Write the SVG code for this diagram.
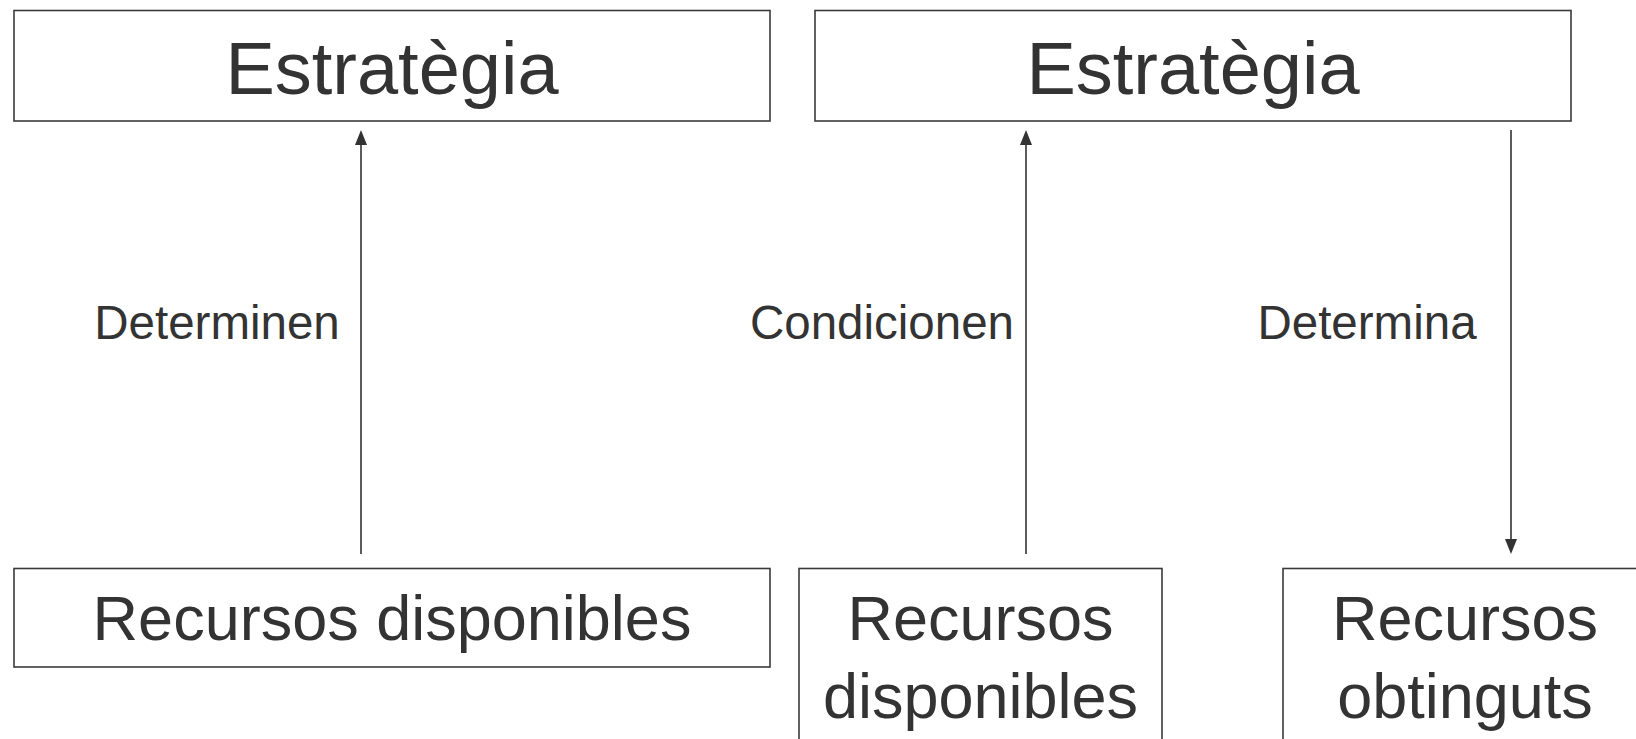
<svg xmlns="http://www.w3.org/2000/svg" width="1636" height="739" viewBox="0 0 1636 739">
<defs>
<style>
.box{fill:#fff;stroke:#3a3a3a;stroke-width:1.6}
.t{font-family:"Liberation Sans",Arial,sans-serif;fill:#333;text-anchor:middle}
.big{font-size:74px}
.mid{font-size:63px}
.lab{font-size:47.5px}
.con{stroke:#333;stroke-width:1.6;fill:none}
</style>
<marker id="ah" markerWidth="12" markerHeight="14" refX="6" refY="14" orient="auto-start-reverse" markerUnits="userSpaceOnUse" viewBox="0 0 12 14">
<path d="M0,14 L6,0 L12,14 Z" fill="#333"/>
</marker>
<marker id="ad" markerWidth="12" markerHeight="14" refX="6" refY="14" orient="auto" markerUnits="userSpaceOnUse" viewBox="0 0 12 14">
<path d="M0,0 L12,7 L0,14 Z" fill="#333"/>
</marker>
</defs>
<rect width="1636" height="739" fill="#fff"/>
<g id="estrategia1">
<rect class="box" x="14" y="10.5" width="756" height="110.5"/>
<text class="t big" x="392" y="94">Estratègia</text>
</g>
<g id="estrategia2">
<rect class="box" x="815" y="10.5" width="756" height="110.5"/>
<text class="t big" x="1193" y="94">Estratègia</text>
</g>
<g id="recursos1">
<rect class="box" x="14" y="568.5" width="756" height="98.5"/>
<text class="t mid" x="392" y="640">Recursos disponibles</text>
</g>
<g id="recursos2">
<rect class="box" x="799" y="568.5" width="363" height="190"/>
<text class="t mid" x="980.5" y="640">Recursos</text>
<text class="t mid" x="980.5" y="718">disponibles</text>
</g>
<g id="recursos3">
<rect class="box" x="1283" y="568.5" width="363" height="190"/>
<text class="t mid" x="1465" y="640">Recursos</text>
<text class="t mid" x="1465" y="718">obtinguts</text>
</g>
<g id="connectors">
<line class="con" x1="361" y1="554" x2="361" y2="144" />
<path d="M355,145 L361,130 L367,145 Z" fill="#333"/>
<line class="con" x1="1026" y1="554" x2="1026" y2="144" />
<path d="M1020,145 L1026,130 L1032,145 Z" fill="#333"/>
<line class="con" x1="1511" y1="130" x2="1511" y2="540" />
<path d="M1505,539 L1511,554 L1517,539 Z" fill="#333"/>
<text class="t lab" x="217" y="339">Determinen</text>
<text class="t lab" x="882" y="339">Condicionen</text>
<text class="t lab" x="1367" y="339">Determina</text>
</g>
</svg>
